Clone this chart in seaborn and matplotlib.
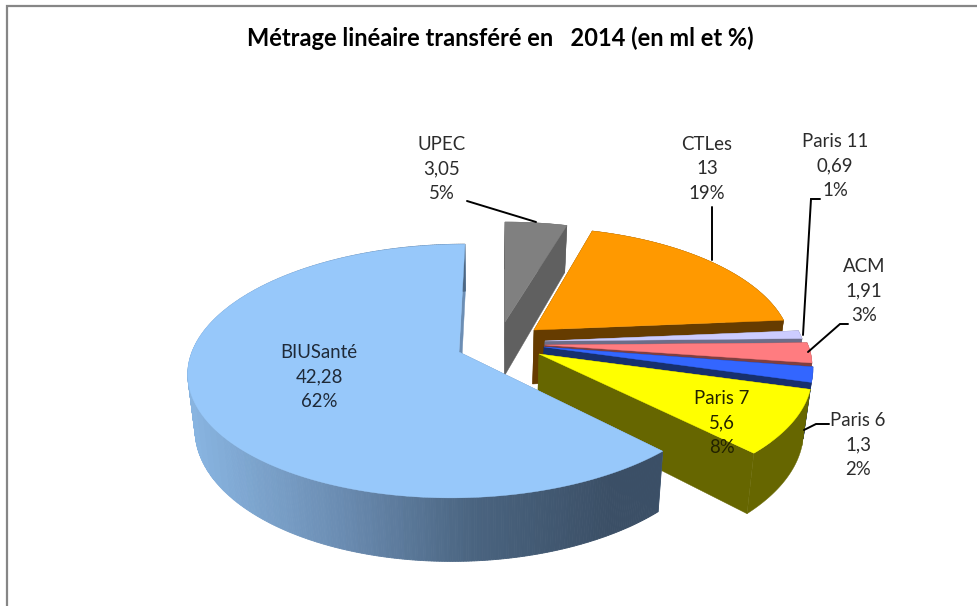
import numpy as np
import matplotlib
matplotlib.use("Agg")
import matplotlib.pyplot as plt
import seaborn as sns

# ---- data
names = ["BIUSanté", "Paris 7", "Paris 6", "ACM", "Paris 11", "CTLes", "UPEC"]
values = [42.28, 5.6, 1.3, 1.91, 0.69, 13, 3.05]
value_labels = ["42,28", "5,6", "1,3", "1,91", "0,69", "13", "3,05"]
pct_labels = ["62%", "8%", "2%", "3%", "1%", "19%", "5%"]

# ---- style
top_colors = ["#97C8FA", "#FFFF00", "#3366FF", "#FF7C80", "#CCCCFF", "#FF9900", "#808080"]
side_colors = ["#6C8EB4", "#666600", "#17306D", "#7F3F40", "#6D6D88", "#663C00", "#606060"]
apex_x = [459, 539, 544, 545, 545, 534, 505]
apex_y = [352, 354, 347, 345, 341, 330, 322]
rad_x = [267, 269, 265, 263, 258, 254, 254]
rad_y = [124, 124, 124, 112, 124, 118, 115]
label_xy = [(319, 377), (722, 423), (858, 445), (864, 291), (835, 166), (707, 169), (442, 169)]
label_color = ["#1F2A38", "#222200", "#2B2B2B", "#2B2B2B", "#2B2B2B", "#2B2B2B", "#2B2B2B"]
leaders = [
    None, None,
    [(829, 424), (816, 424), (804, 430)],
    [(848, 324), (840, 324), (808, 352)],
    [(820, 199), (811, 199), (803, 335)],
    [(712, 207), (712, 260)],
    [(467, 201), (536, 222)],
]
TILT, DEPTH, VX, VX_BOTTOM, SHRINK = 0.15, 54, 505, 480, 0.975

sns.set_theme(style="white")
plt.rcParams["font.family"] = ["Lato", "DejaVu Sans"]
fig = plt.figure(figsize=(9.78, 6.06), dpi=100, facecolor="white")
ax = fig.add_axes([0, 0, 1, 1])
ax.set_xlim(0, 978)
ax.set_ylim(606, 0)
ax.axis("off")

gradient = sns.blend_palette(["#88B4E0", "#6C8EB4", "#4A6480", "#3B4F66"], 64)


def project(i, X, Y, bottom=False):
    X, Y = np.asarray(X, float), np.asarray(Y, float)
    w = 1 + TILT * Y
    sx = VX + (apex_x[i] - VX + rad_x[i] * X) / w
    sy = apex_y[i] - rad_y[i] * Y / w
    if bottom:
        sx = VX_BOTTOM + (sx - VX_BOTTOM) * SHRINK
        sy = sy + DEPTH / w
    return sx, sy


total = sum(values)
edges = 90 + np.concatenate([[0], np.cumsum(values)]) / total * 360

# back-to-front: the last slices of the list sit behind the first ones
for i in range(len(values) - 1, -1, -1):
    t0, t1 = np.radians(edges[i]), np.radians(edges[i + 1])
    th = np.linspace(t0, t1, max(int(edges[i + 1] - edges[i]) * 2, 8))
    X, Y = np.cos(th), np.sin(th)
    # radial walls
    for a in (t0, t1):
        xs = [0, np.cos(a)]
        ys = [0, np.sin(a)]
        tx, ty = project(i, xs, ys)
        bx, by = project(i, xs, ys, True)
        ax.fill(np.r_[tx, bx[::-1]], np.r_[ty, by[::-1]], color=side_colors[i], lw=0.3)
    # outer curved side
    tx, ty = project(i, X, Y)
    bx, by = project(i, X, Y, True)
    if i == 0:
        for j in range(len(th) - 1):
            mid = (tx[j] + tx[j + 1]) / 2
            c = gradient[int(np.clip((mid - 190) / (610 - 190), 0, 1) * 63)]
            ax.fill([tx[j], tx[j + 1], bx[j + 1], bx[j]],
                    [ty[j], ty[j + 1], by[j + 1], by[j]], color=c, lw=0.6)
    else:
        ax.fill(np.r_[tx, bx[::-1]], np.r_[ty, by[::-1]], color=side_colors[i], lw=0.3)
    # top face
    ox, oy = project(i, [0], [0])
    ax.fill(np.r_[ox, tx], np.r_[oy, ty], color=top_colors[i], lw=0.3)

# leader lines
for pts in leaders:
    if pts:
        ax.plot(*zip(*pts), color="black", lw=1.4, solid_joinstyle="miter")

# labels
for n, v, p, (x, y), c in zip(names, value_labels, pct_labels, label_xy, label_color):
    ax.text(x, y, f"{n}\n{v}\n{p}", ha="center", va="center", fontsize=13.4,
            color=c, linespacing=1.57, multialignment="center")

ax.text(500, 38, "Métrage linéaire transféré en   2014 (en ml et %)", ha="center",
        va="center", fontsize=17, fontweight="bold", color="black")

# chart frame
ax.plot([7, 7, 978], [606, 6, 6], color="#868686", lw=1.6, solid_joinstyle="miter")

fig.savefig("out.png", dpi=100)
